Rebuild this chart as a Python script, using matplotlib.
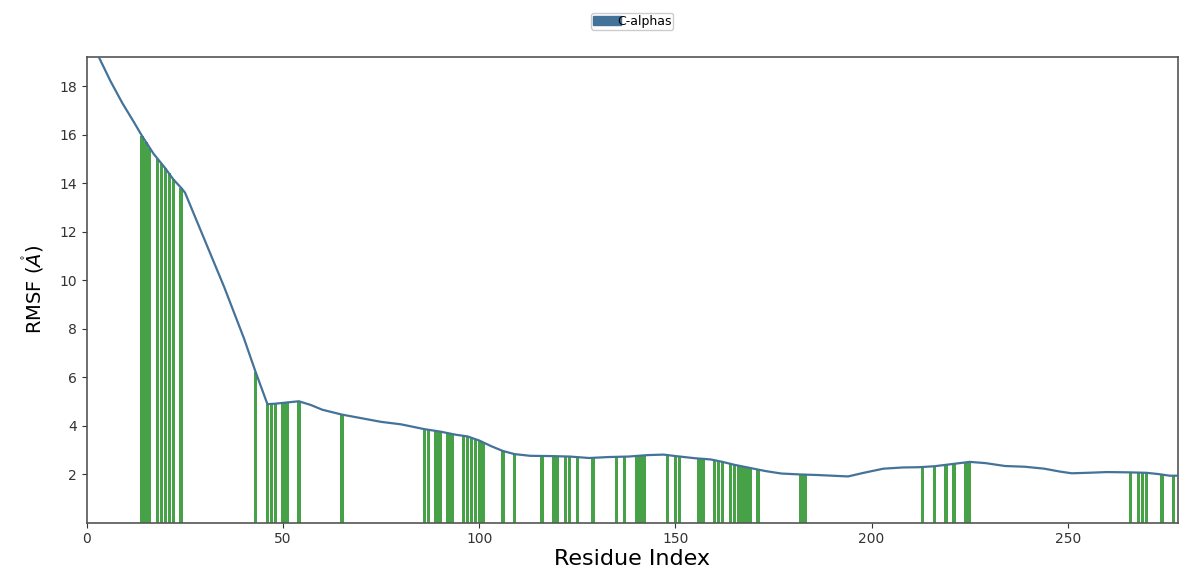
import matplotlib
matplotlib.use("Agg")
import matplotlib.pyplot as plt
from matplotlib.patches import Patch

# RMSF curve (residue index, RMSF in Angstrom)
line_res = [1, 3, 6, 9, 12, 14, 17, 20, 22, 24, 25, 30, 35, 40, 43, 46, 48, 51, 54,
            57, 60, 65, 70, 75, 80, 86, 90, 94, 97, 100, 103, 106, 109, 113, 118,
            123, 128, 133, 138, 143, 147, 150, 155, 159, 162, 165, 169, 173, 177,
            182, 186, 190, 194, 198, 203, 208, 212, 216, 220, 225, 229, 234, 239,
            244, 248, 251, 255, 260, 265, 270, 273, 276, 278]
line_rmsf = [19.9, 19.2, 18.2, 17.3, 16.5, 15.95, 15.2, 14.6, 14.15, 13.8, 13.6,
             11.65, 9.7, 7.6, 6.2, 4.88, 4.9, 4.95, 5.0, 4.85, 4.65, 4.45, 4.3,
             4.15, 4.05, 3.85, 3.75, 3.62, 3.55, 3.38, 3.15, 2.95, 2.82, 2.75,
             2.74, 2.72, 2.66, 2.7, 2.72, 2.78, 2.8, 2.74, 2.65, 2.6, 2.5, 2.38,
             2.25, 2.12, 2.02, 1.98, 1.96, 1.93, 1.9, 2.05, 2.22, 2.27, 2.28,
             2.32, 2.4, 2.5, 2.45, 2.33, 2.3, 2.22, 2.1, 2.03, 2.05, 2.08, 2.07,
             2.05, 2.0, 1.93, 1.93]

# Highlighted residues (green bars) and their RMSF heights
hl_res = [14, 15, 16, 18, 19, 20, 21, 22, 24,
          43, 46, 47, 48, 50, 51, 54, 65,
          86, 87, 89, 90, 92, 93, 96, 97, 98, 99, 100, 101, 106, 109,
          116, 119, 120, 122, 123, 125, 129, 135, 137, 140, 141, 142, 148, 150, 151,
          156, 157, 160, 161, 162, 164, 165, 166, 167, 168, 169, 171, 182, 183,
          213, 216, 219, 221, 224, 225,
          266, 268, 269, 270, 274, 277]
hl_rmsf = [15.95, 15.7, 15.45, 15.0, 14.8, 14.6, 14.4, 14.15, 13.8,
           6.2, 4.88, 4.88, 4.9, 4.93, 4.95, 5.0, 4.45,
           3.85, 3.82, 3.78, 3.75, 3.7, 3.67, 3.58, 3.55, 3.5, 3.45, 3.38, 3.3, 2.95, 2.82,
           2.75, 2.74, 2.74, 2.73, 2.72, 2.7, 2.66, 2.7, 2.71, 2.74, 2.75, 2.76, 2.79, 2.74, 2.72,
           2.64, 2.63, 2.58, 2.55, 2.5, 2.42, 2.38, 2.35, 2.32, 2.28, 2.25, 2.18, 1.98, 1.98,
           2.28, 2.32, 2.38, 2.42, 2.48, 2.5,
           2.07, 2.06, 2.05, 2.05, 1.98, 1.93]

yticks = [2, 4, 6, 8, 10, 12, 14, 16, 18]
xticks = [0, 50, 100, 150, 200, 250]

line_color = "#44739a"
fig = plt.figure(figsize=(11.8, 5.69), dpi=100)
ax = fig.add_axes([0.0737, 0.0817, 0.9243, 0.8183])

ax.bar(hl_res, hl_rmsf, width=0.88, color="#1e8c1e", alpha=0.82, linewidth=0, zorder=2)
ax.plot(line_res, line_rmsf, color=line_color, lw=1.6, zorder=3)

ax.set_xlim(0, 278)
ax.set_ylim(0, 19.2)
ax.set_yticks(yticks)
ax.set_xticks(xticks)
ax.tick_params(labelsize=10, colors="#333333", length=3.5)
for s in ax.spines.values():
    s.set_color("#555555")
    s.set_linewidth(1.2)

ax.set_xlabel("Residue Index", fontsize=16, labelpad=2)
ax.set_ylabel(r"RMSF ($\mathring{A}$)", fontsize=14, labelpad=10)

handle = Patch(facecolor=line_color, edgecolor=line_color)
ax.legend([handle], ["C-alphas"], loc="lower center", bbox_to_anchor=(0.5, 1.045),
          fontsize=9, frameon=True, handlelength=2.2, handletextpad=-0.3,
          borderpad=0.15, fancybox=True, framealpha=1.0, edgecolor="#cccccc")

fig.savefig("out.png", dpi=100)
